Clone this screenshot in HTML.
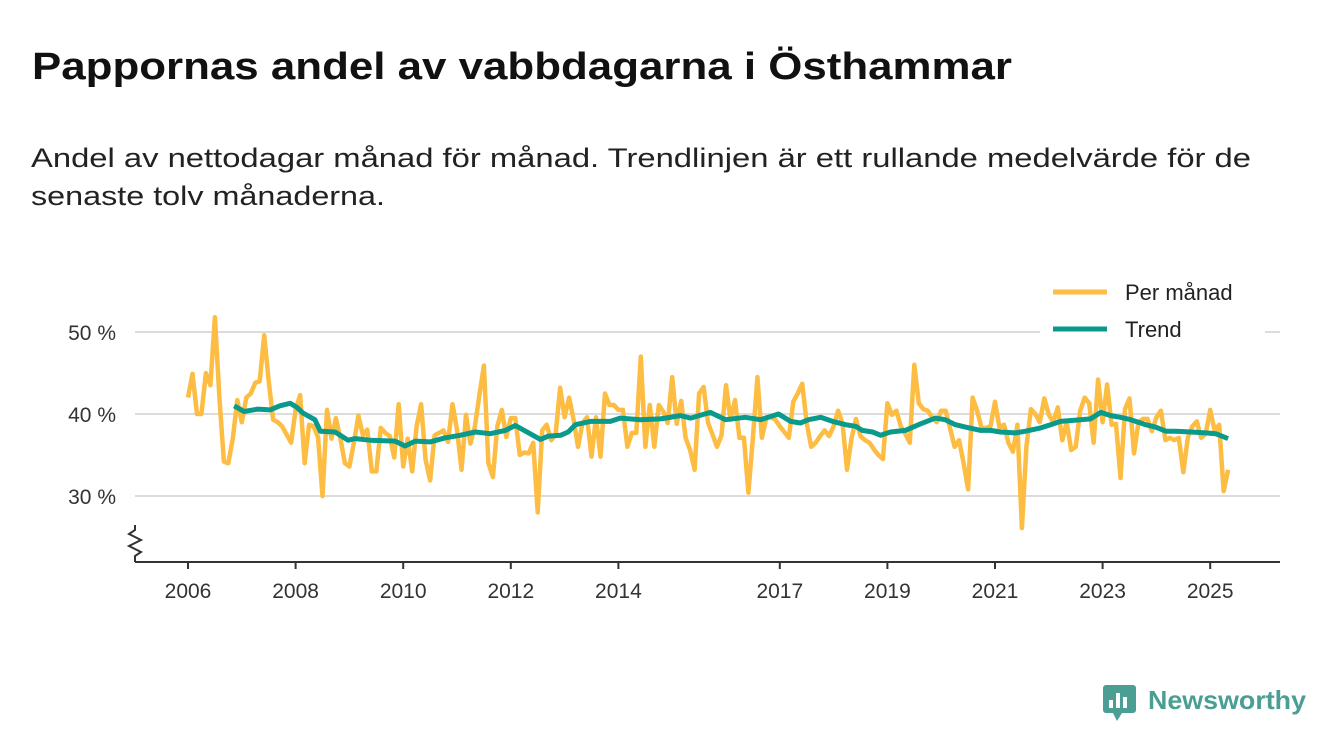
<!DOCTYPE html>
<html><head><meta charset="utf-8"><style>
html,body{margin:0;padding:0;background:#fff;}
svg{display:block;font-family:"Liberation Sans",sans-serif;}
</style></head><body>
<svg width="1340" height="753" viewBox="0 0 1340 753">
<text x="32" y="79" font-size="38" font-weight="bold" fill="#111" textLength="980" lengthAdjust="spacingAndGlyphs">Pappornas andel av vabbdagarna i Östhammar</text>
<text x="31" y="167" font-size="27" fill="#222" textLength="1220" lengthAdjust="spacingAndGlyphs">Andel av nettodagar månad för månad. Trendlinjen är ett rullande medelvärde för de</text>
<text x="31" y="205" font-size="27" fill="#222" textLength="354" lengthAdjust="spacingAndGlyphs">senaste tolv månaderna.</text>
<g id="grid"></g>
<g id="axes"></g>
<g id="series"></g>
<g>
<rect x="1040" y="275" width="225" height="70" fill="#fff"/>
<line x1="1053" y1="292" x2="1107" y2="292" stroke="#FDBC42" stroke-width="5"/>
<text x="1125" y="300" font-size="22" fill="#222">Per månad</text>
<line x1="1053" y1="329" x2="1107" y2="329" stroke="#0A9A8C" stroke-width="5"/>
<text x="1125" y="337" font-size="22" fill="#222">Trend</text>
</g>
<g>
<rect x="1103" y="685" width="33" height="28" rx="3" fill="#4a9e94"/>
<polygon points="1113,713 1122,713 1117,721" fill="#4a9e94"/>
<rect x="1109" y="700" width="4" height="8" fill="#fff"/>
<rect x="1116" y="693" width="4" height="15" fill="#fff"/>
<rect x="1123" y="697" width="4" height="11" fill="#fff"/>
<text x="1148" y="709" font-size="26" font-weight="bold" fill="#4a9e94" textLength="158" lengthAdjust="spacingAndGlyphs">Newsworthy</text>
</g>
</svg>
<script>
const monthly = [42,44.9,40,40,45,43.5,51.8,42,34.2,34,
37,41.7,39,42,42.5,43.8,44,49.6,44,39.3,
39,38.5,37.5,36.5,40.5,42.3,34,38.7,38.5,37.2,
30,40.5,37,39.5,37,34,33.6,36.5,39.8,37.4,
38.1,33,33,38.3,37.7,37.3,34.7,41.2,33.6,37,
33,38.5,41.2,34.4,31.9,37.4,37.7,38,36.6,41.2,
38.1,33.2,39.9,36.4,38.5,42.3,45.9,34,32.3,38.5,
40.5,37.2,39.5,39.5,35,35.3,35.2,36.5,28,
38,38.7,36.8,37.5,43.2,39.6,42,39.3,36,38.9,
39.6,34.8,39.6,34.8,42.5,41.1,41.1,40.5,40.5,36,
37.7,37.7,47,36,41.1,36,41.1,40.3,38.9,44.5,
38.8,41.6,37.1,35.6,33.2,42.5,43.3,38.9,37.5,36,
37.4,43.5,39.3,41.7,37.1,37.1,30.4,37.1,44.5,37.1,
39.6,39.6,39.3,38.5,37.8,37.1,41.5,42.5,43.7,38.9,
36,36.5,37.3,38,37.3,38.5,40.4,38.8,33.2,37,39.4,
37.3,36.8,36.5,35.7,35,
34.5,41.3,39.9,40.4,38.5,37.6,36.5,46,41.3,40.6,
40.4,39.6,39,40.4,40.4,38.2,36,36.8,34,30.8,
42,40.4,38.3,38.3,38.5,41.5,38.3,38.7,36.5,35.4,
38.7,26.1,36,40.6,40,39,41.9,39.9,39,40.8,
36.8,39,35.6,36,40.4,42,41.3,36.5,44.2,39,
43.6,38.7,38.8,32.2,40.6,41.9,35.2,39,39.4,39.4,
37.9,39.6,40.4,36.8,37.1,36.8,37.1,32.9,37.1,38.5,
39.1,37.1,37.6,40.5,37.9,38.7,30.6,33.2];
const trendMonths = [10.3,12.5,15.6,18.3,20.5,22.8,24.3,25.7,28.3,29.5,32.8,35.7,37.3,40.6,46.2,48.4,50.7,54,57.4,60.7,64.1,67.4,70.8,73,75.3,78.6,80.4,83.1,84.8,86.4,89.7,94.2,96.4,100.9,105.4,109.8,112.1,116.5,119.9,124.3,127.7,131.7,134.4,136.6,138.4,141.1,143.8,146.7,148.9,150.4,152.7,154.5,156.7,160,163.4,166.7,168.9,171.2,173.4,176.8,179,181.2,184.6,186.8,190.2,192.4,194.6,199.1,201.3,203.6,205.8,208,210.3,213.6,215.8,218.1,220.3,223.7,227,229.2,232];
const trendValues = [41,40.3,40.6,40.5,41,41.3,40.8,40.1,39.3,37.9,37.8,36.8,37,36.8,36.7,36.1,36.7,36.6,37.1,37.4,37.8,37.6,38,38.6,37.9,36.9,37.3,37.4,37.8,38.7,39.1,39.1,39.5,39.3,39.4,39.8,39.5,40.2,39.3,39.6,39.3,40,39.1,38.9,39.3,39.6,39.1,38.7,38.5,38,37.8,37.4,37.8,38,38.8,39.5,39.3,38.7,38.4,38,38,37.8,37.7,37.9,38.3,38.7,39.1,39.3,39.4,40.2,39.8,39.6,39.3,38.7,38.4,37.9,37.9,37.8,37.7,37.6,37];
const yTicks = [50,40,30];
const yTickLabels = ["50 %","40 %","30 %"];
const xYears = [2006,2008,2010,2012,2014,2017,2019,2021,2023,2025];

const NS="http://www.w3.org/2000/svg";
const x0=188, pxPerYear=53.8;
function xMonth(m){return x0 + m*pxPerYear/12;}
function xYear(y){return x0 + (y-2006)*pxPerYear;}
function yVal(v){return 332 + (50-v)*8.2;}
function mk(tag,attrs,parent){const e=document.createElementNS(NS,tag);for(const k in attrs)e.setAttribute(k,attrs[k]);parent.appendChild(e);return e;}

const grid=document.getElementById('grid');
yTicks.forEach((v,i)=>{
  const l=mk('line',{x1:135,x2:1280,y1:yVal(v),y2:yVal(v),stroke:'#dcdcdc','stroke-width':2},grid);
  
  
  const t=mk('text',{x:116,y:yVal(v)+8,'font-size':21,fill:'#333','text-anchor':'end'},grid);
  t.textContent=yTickLabels[i];
  
  
});
const axes=document.getElementById('axes');
const ax=mk('line',{x1:135,x2:1280,y1:562,y2:562,stroke:'#333','stroke-width':2},axes);


const br=mk('polyline',{points:'135,525 135,530 129,534 141,540 129,546 141,552 135,556 135,562',fill:'none',stroke:'#333','stroke-width':2},axes);


xYears.forEach(y=>{
  const tk=mk('line',{x1:xYear(y),x2:xYear(y),y1:562,y2:569,stroke:'#333','stroke-width':2},axes);
  
  
  const t=mk('text',{x:xYear(y),y:598,'font-size':21,fill:'#333','text-anchor':'middle'},axes);
  t.textContent=y;
  
  
});
const series=document.getElementById('series');
const p1=mk('polyline',{points:monthly.map((v,i)=>xMonth(i).toFixed(1)+','+yVal(v).toFixed(1)).join(' '),fill:'none',stroke:'#FDBC42','stroke-width':4.5,'stroke-linejoin':'round'},series);


const p2=mk('polyline',{points:trendValues.map((v,i)=>xMonth(trendMonths[i]).toFixed(1)+','+yVal(v).toFixed(1)).join(' '),fill:'none',stroke:'#0A9A8C','stroke-width':5,'stroke-linejoin':'round'},series);


</script>
</body></html>
